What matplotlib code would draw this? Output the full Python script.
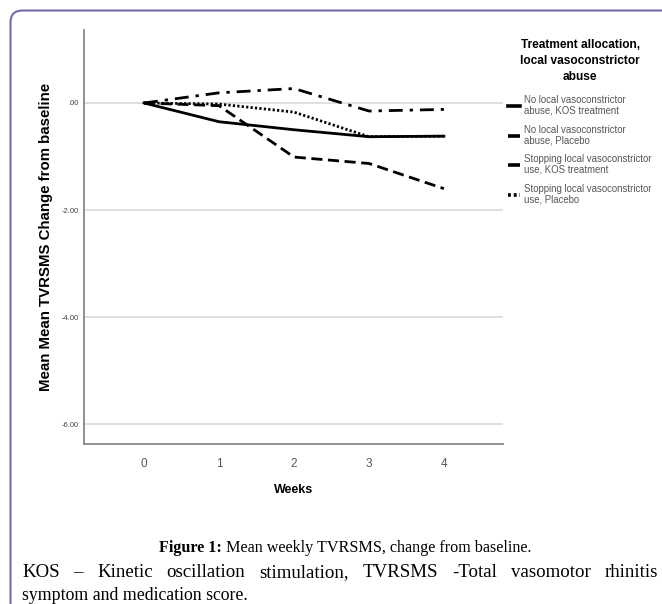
import numpy as np
import matplotlib
matplotlib.use("Agg")
import matplotlib.pyplot as plt
from matplotlib.path import Path
from matplotlib.patches import PathPatch

# data
weeks = [0, 1, 2, 3, 4]
no_abuse_kos = [0.0, -0.35, -0.50, -0.63, -0.62]
no_abuse_placebo = [0.0, 0.19, 0.27, -0.15, -0.12]
stop_kos = [0.0, -0.05, -1.01, -1.13, -1.60]
stop_placebo = [0.0, -0.02, -0.17, -0.63, -0.62]
labels = ["No local vasoconstrictor\nabuse, KOS treatment",
          "No local vasoconstrictor\nabuse, Placebo",
          "Stopping local vasoconstrictor\nuse, KOS treatment",
          "Stopping local vasoconstrictor\nuse, Placebo"]
yticks = [0, -2, -4, -6]
ytick_labels = [".00", "-2.00", "-4.00", "-6.00"]

sans = "Liberation Sans"
serif = "Liberation Serif"

fig = plt.figure(figsize=(6.62, 6.04), dpi=100)
ax = fig.add_axes([0.127, 0.265, 0.633, 0.685])

ax.plot(weeks, no_abuse_kos, color="black", lw=2.0, ls="-", label=labels[0])
ax.plot(weeks, no_abuse_placebo, color="black", lw=2.0, ls=(0, (5, 2.5, 1.2, 2.5)), label=labels[1])
ax.plot(weeks, stop_kos, color="black", lw=2.0, ls=(0, (4, 2)), label=labels[2])
ax.plot(weeks, stop_placebo, color="black", lw=2.0, ls=(0, (0.8, 0.8)), label=labels[3])

ax.set_xlim(-0.8, 4.79)
ax.set_ylim(-6.37, 1.36)
ax.set_yticks(yticks)
ax.set_yticklabels(ytick_labels, fontsize=5.5, color="#444444", family=sans)
ax.set_xticks(weeks)
ax.set_xticklabels([str(w) for w in weeks], fontsize=8.5, color="#555555", family=sans)
ax.tick_params(length=0, pad=10, axis="x")
ax.tick_params(length=0, pad=4, axis="y")
ax.grid(axis="y", color="#dcdcdc", lw=1.3)
ax.set_axisbelow(True)
for s in ["top", "right"]:
    ax.spines[s].set_visible(False)
for s in ["left", "bottom"]:
    ax.spines[s].set_color("#888888")
    ax.spines[s].set_linewidth(1.3)

ax.set_xlabel("Weeks", fontsize=9, fontweight="bold", family=sans, labelpad=10)
ax.set_ylabel("Mean Mean TVRSMS Change from baseline", fontsize=10.8, fontweight="bold",
              family=sans, labelpad=6)

leg = fig.legend(loc="upper left", bbox_to_anchor=(0.755, 0.950), frameon=False,
                 handlelength=1.2, handletextpad=0.45, labelspacing=0.95,
                 title="Treatment allocation,\nlocal vasoconstrictor\nabuse",
                 prop={"family": sans, "size": 6.9})
title = leg.get_title()
title.set_fontweight("bold")
title.set_fontsize(8.6)
title.set_family(sans)
title.set_multialignment("center")
title.set_linespacing(1.45)
leg._legend_box.sep = 9
for t in leg.get_texts():
    t.set_color("#555555")
    t.set_linespacing(1.05)
for h in leg.get_lines():
    h.set_linewidth(2.6)

# caption
fig.text(222 / 662, 1 - 548 / 604, "Figure 1:", family=serif, fontweight="bold",
         fontsize=11.6, ha="right", va="center")
fig.text(226 / 662, 1 - 548 / 604, "Mean weekly TVRSMS, change from baseline.",
         family=serif, fontsize=11.6, ha="left", va="center")

# justified second line
line2 = "KOS \u2013 Kinetic oscillation stimulation, TVRSMS -Total vasomotor rhinitis"
words = line2.split(" ")
renderer = fig.canvas.get_renderer()
left_px, right_px = 22, 658
items = [fig.text(0, 1 - 577 / 604, w, family=serif, fontsize=13.6, ha="left", va="baseline")
         for w in words]
widths = [t.get_window_extent(renderer).width for t in items]
gap = (right_px - left_px - sum(widths)) / (len(words) - 1)
x = left_px
for t, w in zip(items, widths):
    t.set_x(x / 662)
    x += w + gap

fig.text(22 / 662, 1 - 600 / 604, "symptom and medication score.",
         family=serif, fontsize=12.8, ha="left", va="baseline")

# rounded frame, top-left corner only
x0, y0 = 10.5 / 100, (604 - 10.5) / 100
r = 0.12
verts = [(x0, 0.0), (x0, y0 - r), (x0, y0), (x0 + r, y0), (6.62, y0)]
codes = [Path.MOVETO, Path.LINETO, Path.CURVE3, Path.CURVE3, Path.LINETO]
fig.add_artist(PathPatch(Path(verts, codes), transform=fig.dpi_scale_trans,
                         fill=False, edgecolor="#6a62a8", lw=1.4))

fig.savefig("out.png", dpi=100)
